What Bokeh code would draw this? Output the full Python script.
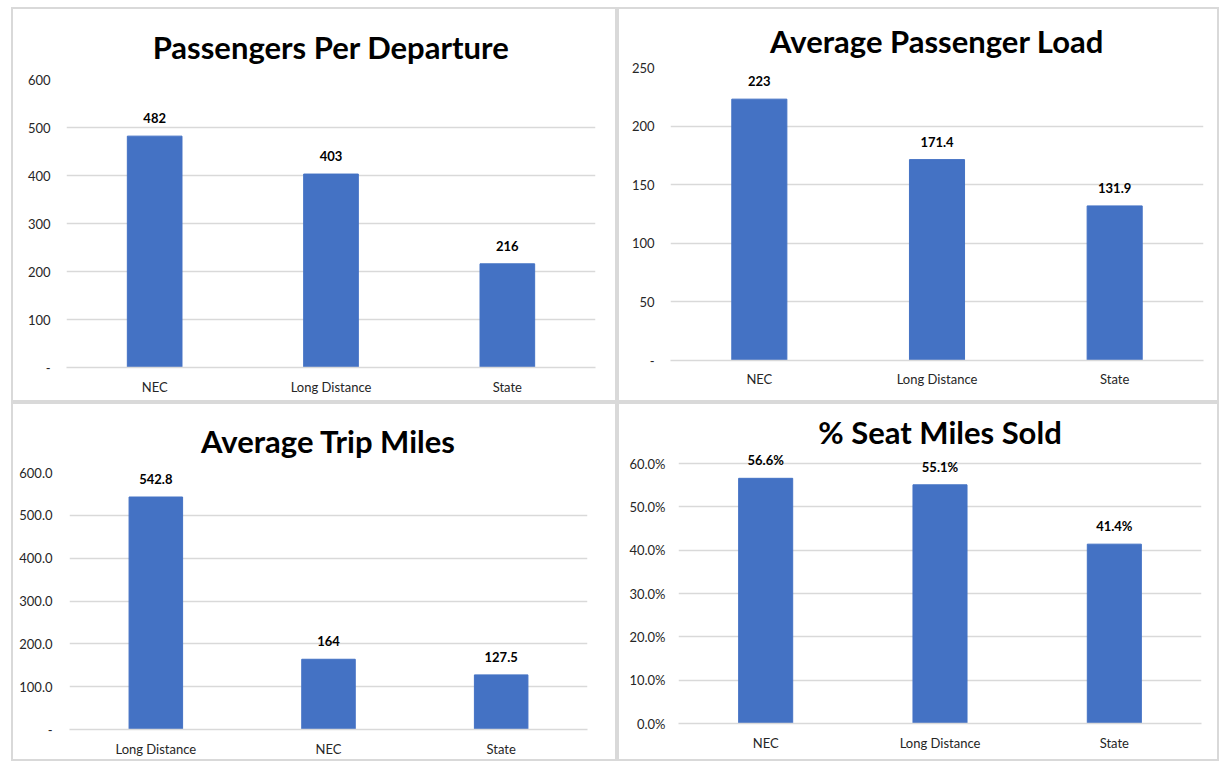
from bokeh.plotting import figure
from bokeh.models import ColumnDataSource, LabelSet, FixedTicker, NumeralTickFormatter
from bokeh.layouts import column, row
from bokeh.core.properties import value
from bokeh.embed import file_html
from bokeh.resources import INLINE

# ---------------- data ----------------
ppd_title = "Passengers Per Departure"
ppd_cats = ["NEC", "Long Distance", "State"]
ppd_vals = [482, 403, 216]
ppd_ticks = [0, 100, 200, 300, 400, 500, 600]

apl_title = "Average Passenger Load"
apl_cats = ["NEC", "Long Distance", "State"]
apl_vals = [223, 171.4, 131.9]
apl_ticks = [0, 50, 100, 150, 200, 250]

atm_title = "Average Trip Miles"
atm_cats = ["Long Distance", "NEC", "State"]
atm_vals = [542.8, 164, 127.5]
atm_ticks = [0, 100, 200, 300, 400, 500, 600]

sms_title = "% Seat Miles Sold"
sms_cats = ["NEC", "Long Distance", "State"]
sms_vals = [0.566, 0.551, 0.414]
sms_ticks = [0, 0.1, 0.2, 0.3, 0.4, 0.5, 0.6]

# ---------------- style ----------------
BAR = "#4472C4"
GRID = "#d9d9d9"
TXT = "#262626"
FONT = "Lato"


def num_label(v):
    return str(int(v)) if float(v).is_integer() else f"{v:.1f}"


def make_panel(title, cats, vals, ticks, labels, width, height, borders,
               title_standoff, ylab_standoff, xlab_standoff, fmt=None, y_end=None):
    left, right, top, bottom = borders
    p = figure(x_range=cats, y_range=(ticks[0], y_end if y_end is not None else ticks[-1]),
               width=width, height=height,
               output_backend="svg", toolbar_location=None,
               min_border_left=left, min_border_right=right,
               min_border_top=top, min_border_bottom=bottom,
               styles={"background-color": "white"})
    p.frame_align = False
    p.title.text = title
    p.title.text_font = FONT
    p.title.text_font_style = "bold"
    p.title.text_font_size = "31px"
    p.title.align = "center"
    p.title.text_color = "black"
    p.title.standoff = title_standoff
    p.outline_line_color = None
    p.background_fill_color = "white"
    p.border_fill_color = "white"

    src = ColumnDataSource(dict(cat=cats, val=vals, lab=labels))
    p.vbar(x="cat", top="val", width=0.31, source=src, fill_color=BAR, line_color=BAR)
    p.add_layout(LabelSet(x="cat", y="val", text="lab", source=src,
                          text_align="center", text_baseline="middle", y_offset=18,
                          text_font=value(FONT), text_font_style="bold",
                          text_font_size="13px", text_color="black"))

    p.x_range.range_padding = 0
    p.xgrid.grid_line_color = None
    p.ygrid.grid_line_color = GRID
    p.ygrid.grid_line_width = 1.5
    p.yaxis.ticker = FixedTicker(ticks=ticks)
    if fmt is not None:
        p.yaxis.formatter = NumeralTickFormatter(format=fmt)
        if "%" not in fmt:
            p.yaxis.major_label_overrides = {0: "-"}
    else:
        p.yaxis.major_label_overrides = {0: "-"}

    for ax in (p.xaxis, p.yaxis):
        ax.major_tick_line_color = None
        ax.minor_tick_line_color = None
        ax.major_tick_out = 0
        ax.major_label_text_font = FONT
        ax.major_label_text_font_size = "13px"
        ax.major_label_text_color = TXT
    p.yaxis.axis_line_color = None
    p.yaxis.major_label_standoff = ylab_standoff
    p.xaxis.axis_line_color = GRID
    p.xaxis.axis_line_width = 1.5
    p.xaxis.major_label_standoff = xlab_standoff
    return p


p1 = make_panel(ppd_title, ppd_cats, ppd_vals, ppd_ticks, [num_label(v) for v in ppd_vals],
                602, 391, (53, 20, 70, 33), 28, 16, 11)
p2 = make_panel(apl_title, apl_cats, apl_vals, apl_ticks, [num_label(v) for v in apl_vals],
                598, 391, (51, 14, 58, 40), 16, 16, 10)
p3 = make_panel(atm_title, atm_cats, atm_vals, atm_ticks, [num_label(v) for v in atm_vals],
                602, 355, (56, 28, 68, 29), 26, 17, 11, fmt="0.0")
p4 = make_panel(sms_title, sms_cats, sms_vals, sms_ticks, [f"{v * 100:.1f}%" for v in sms_vals],
                598, 355, (59, 16, 50, 36), 8, 13, 11, fmt="0.0%", y_end=0.621)

layout = column(
    row(p1, p2, spacing=4),
    row(p3, p4, spacing=4),
    spacing=4,
    margin=(7, 0, 0, 11),
    styles={"background-color": "#d9d9d9", "padding": "2px"},
)

with open("out.html", "w") as f:
    f.write(file_html(layout, INLINE))
